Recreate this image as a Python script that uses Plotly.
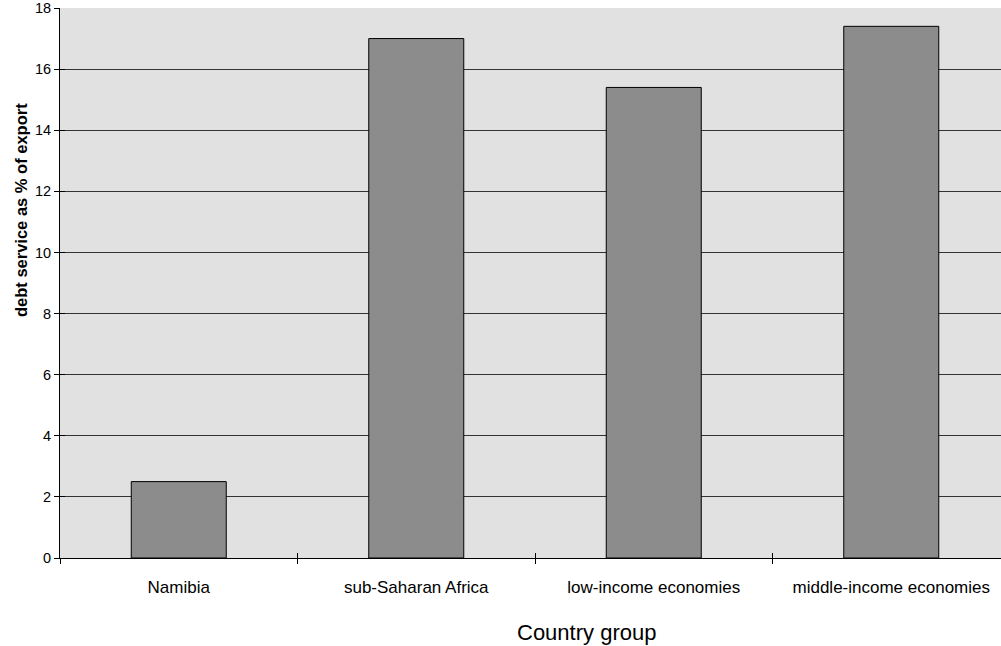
import plotly.graph_objects as go

categories = ["Namibia", "sub-Saharan Africa", "low-income economies", "middle-income economies"]
values = [2.5, 17.0, 15.4, 17.4]
y_ticks = [0, 2, 4, 6, 8, 10, 12, 14, 16, 18]

fig = go.Figure()
fig.add_trace(go.Bar(
    x=categories, y=values,
    marker=dict(color="#8c8c8c", line=dict(color="#000000", width=1)),
    width=0.4,
))
# invisible copy on overlaid axes, used only to draw the inner half of the crossing ticks
fig.add_trace(go.Scatter(
    x=categories, y=values, xaxis="x2", yaxis="y2",
    mode="markers", marker=dict(opacity=0), hoverinfo="skip", showlegend=False,
))

fig.update_layout(
    width=1010, height=646,
    margin=dict(l=60, r=0, t=8, b=88),
    paper_bgcolor="white",
    plot_bgcolor="#e1e1e1",
    font=dict(family="Liberation Sans, Arial, sans-serif", color="black", size=14),
    showlegend=False,
    bargap=0.6,
    annotations=[
        dict(text="<b>debt service as % of export</b>", xref="paper", yref="paper",
             x=-60/950, y=(558-210)/550, xanchor="left", yanchor="middle",
             textangle=-90, showarrow=False, font=dict(size=16.5), xshift=10),
        dict(text="Country group", xref="paper", yref="paper",
             x=(586-60)/950, y=-(632-558)/550, xanchor="center", yanchor="middle",
             showarrow=False, font=dict(size=22)),
    ],
    xaxis2=dict(overlaying="x", type="category", categoryarray=categories,
                range=[-0.5, 3.5], ticks="inside", ticklen=5, tickcolor="black",
                tickson="boundaries", showticklabels=False, showgrid=False,
                showline=False, zeroline=False, side="bottom", anchor="y2"),
    yaxis2=dict(overlaying="y", range=[0, 18], tickvals=y_ticks, ticks="inside",
                ticklen=5, tickcolor="black", showticklabels=False, showgrid=False,
                showline=False, zeroline=False, side="left", anchor="x2"),
)
fig.update_xaxes(
    selector=dict(), overwrite=False,
)
fig.layout.xaxis.update(
    showline=True, linecolor="black", linewidth=1,
    ticks="outside", ticklen=5, tickcolor="black", tickson="boundaries",
    tickfont=dict(size=17), ticklabelstandoff=14,
    showgrid=False, range=[-0.5, 3.5],
)
fig.layout.yaxis.update(
    range=[0, 18], tickvals=y_ticks,
    showline=True, linecolor="black", linewidth=1,
    ticks="outside", ticklen=5, tickcolor="black",
    showgrid=True, gridcolor="#333333", gridwidth=1,
    tickfont=dict(size=14.5),
    zeroline=False,
)

fig.write_html("out.html")
